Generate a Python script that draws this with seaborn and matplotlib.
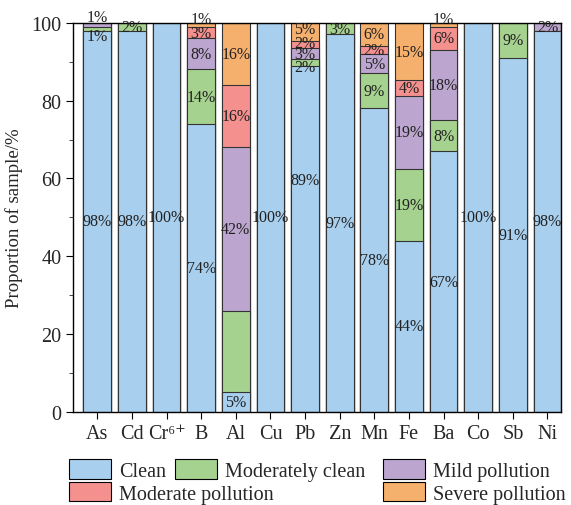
import numpy as np
import pandas as pd
import matplotlib
matplotlib.use("Agg")
import matplotlib.pyplot as plt
import seaborn as sns
from matplotlib.patches import Patch
from matplotlib.ticker import MultipleLocator

elements = ["As", "Cd", "Cr⁶⁺", "B", "Al", "Cu", "Pb", "Zn", "Mn", "Fe", "Ba", "Co", "Sb", "Ni"]
levels = ["Clean", "Moderately clean", "Mild pollution", "Moderate pollution", "Severe pollution"]

clean      = [98, 98, 100, 74, 5, 100, 89, 97, 78, 44, 67, 100, 91, 98]
mod_clean  = [1, 2, 0, 14, 21, 0, 1.6, 3, 9, 18.5, 8, 0, 9, 0]
mild       = [1, 0, 0, 8, 42, 0, 3, 0, 5, 18.7, 18, 0, 0, 2]
moderate   = [0, 0, 0, 3, 16, 0, 1.6, 0, 2, 4, 6, 0, 0, 0]
severe     = [0, 0, 0, 1, 16, 0, 4.8, 0, 6, 14.8, 1, 0, 0, 0]

# labels shown on the bars (None = no text)
lab_clean     = ["98%", "98%", "100%", "74%", "5%", "100%", "89%", "97%", "78%", "44%", "67%", "100%", "91%", "98%"]
lab_mod_clean = ["1%", "2%", None, "14%", None, None, "2%", "3%", "9%", "19%", "8%", None, "9%", None]
lab_mild      = ["1%", None, None, "8%", "42%", None, "3%", None, "5%", "19%", "18%", None, None, "2%"]
lab_moderate  = [None, None, None, "3%", "16%", None, "2%", None, "2%", "4%", "6%", None, None, None]
lab_severe    = [None, None, None, "1%", "16%", None, "5%", None, "6%", "15%", "1%", None, None, None]

colors = ["#a8cfee", "#a6d28f", "#bca6cf", "#f4918f", "#f6b06e"]

sns.set_style("ticks")
plt.rcParams["font.family"] = ["Liberation Serif", "DejaVu Serif"]

series = [clean, mod_clean, mild, moderate, severe]
labels = [lab_clean, lab_mod_clean, lab_mild, lab_moderate, lab_severe]
data = np.array(series, dtype=float)
cum = np.minimum(np.cumsum(data, axis=0), 100)

fig = plt.figure(figsize=(5.71, 5.06), dpi=100)
ax = fig.add_axes([0.128, 0.184, 0.855, 0.769])

# stacked bars: draw cumulative totals from the top level down
for k in range(len(levels) - 1, -1, -1):
    df = pd.DataFrame({"element": elements, "value": cum[k]})
    sns.barplot(data=df, x="element", y="value", color=colors[k], width=0.8,
                edgecolor="#333333", linewidth=0.8, saturation=1, ax=ax)

# manual nudges for crowded labels (value units)
nudge = {(1, 0): -2.0, (2, 0): 2.0, (4, 3): 1.5, (4, 10): 1.5, (0, 6): 15.0,
         (1, 6): -1.2, (3, 6): 0.3, (4, 6): 0.8}
bottoms = np.vstack([np.zeros(len(elements)), cum[:-1]])
for k in range(len(levels)):
    for i in range(len(elements)):
        t = labels[k][i]
        if t is None:
            continue
        y = (bottoms[k][i] + cum[k][i]) / 2 + nudge.get((k, i), 0)
        ax.text(i, y, t, ha="center", va="center", fontsize=11.5, color="#222222")

ax.set_ylim(0, 100)
ax.set_xlim(-0.7, 13.4)
ax.yaxis.set_major_locator(MultipleLocator(20))
ax.yaxis.set_minor_locator(MultipleLocator(10))
ax.tick_params(axis="both", labelsize=14.5, direction="out", length=5, color="black")
ax.tick_params(axis="y", which="minor", length=3)
ax.set_xlabel("")
ax.set_ylabel("Proportion of sample/%", fontsize=13.5, labelpad=6)
for s in ax.spines.values():
    s.set_visible(True)
    s.set_color("black")
    s.set_linewidth(1.0)

# legend entries placed one by one (two rows, uneven columns)
spots = [(0.121, 0.069), (0.306, 0.069), (0.671, 0.069), (0.121, 0.024), (0.671, 0.024)]
for k, (lx, ly) in enumerate(spots):
    h = Patch(facecolor=colors[k], edgecolor="black", linewidth=0.8)
    fig.legend([h], [levels[k]], loc="center left", bbox_to_anchor=(lx, ly),
               frameon=False, fontsize=14.5, handlelength=2.1, handleheight=1.1,
               handletextpad=0.4, borderpad=0, borderaxespad=0)

fig.savefig("out.png", dpi=100)
